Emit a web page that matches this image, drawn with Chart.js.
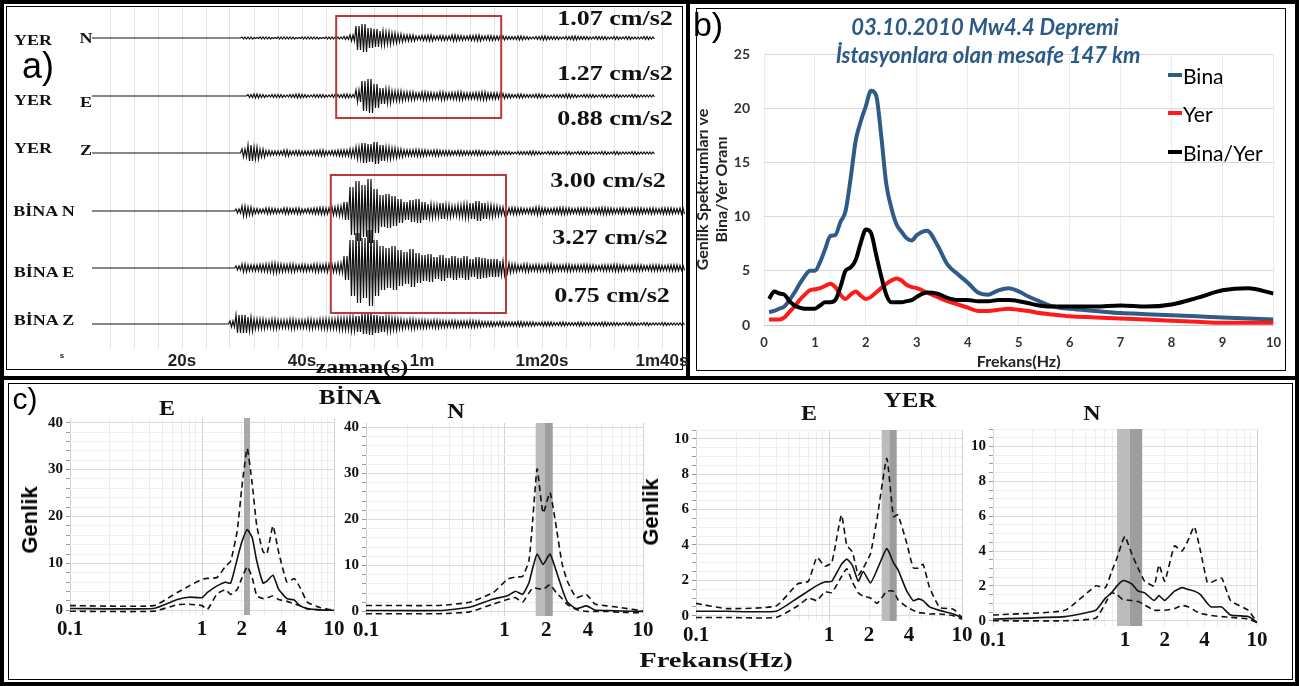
<!DOCTYPE html>
<html lang="tr">
<head>
<meta charset="utf-8">
<title>03.10.2010 Mw4.4 Depremi - kayıtlar ve spektrumlar</title>
<script src="https://cdn.jsdelivr.net/npm/chart.js@4.4.1/dist/chart.umd.min.js"></script>
<style>
  body { margin: 0; background: #fff; }
  #fig { position: relative; width: 1299px; height: 686px; overflow: hidden; background: #fff; }
  .frame { position: absolute; box-sizing: border-box; border: 4px solid #000; }
  .inner { position: absolute; box-sizing: border-box; border: 1px solid #000; }
  canvas { position: absolute; }
  .lbl { position: absolute; white-space: nowrap; line-height: 1; }
  .ser { font-family: "Liberation Serif", "DejaVu Serif", serif; font-weight: bold; color: #111; }
  .san { font-family: "Liberation Sans", Arial, sans-serif; color: #000; }
  .cal { font-family: Lato, "Open Sans", sans-serif; color: #000; }
  .sw { position: absolute; width: 14px; height: 4px; }
</style>
</head>
<body>
<div id="fig">
  <div class="frame" style="left:0;top:0;width:690px;height:380px"></div>
  <div class="inner" style="left:6px;top:6px;width:677px;height:364px"></div>
  <div class="frame" style="left:686px;top:0;width:613px;height:380px"></div>
  <div class="inner" style="left:696px;top:8px;width:590px;height:363px"></div>
  <div class="frame" style="left:0;top:376px;width:1299px;height:310px"></div>
  <div class="inner" style="left:8px;top:383px;width:1285px;height:297px"></div>
</div>
<script>
// ---------- a) ivme kayıtları: genlik zarfı (kayıt pikseli), t = 5 s'den itibaren saniyede bir değer
const seisStart = 5;
const yerN = [0,0,0,0,0, 0,0,0,0,0, 0,0,0,0,0, 0,0,0,0,0, 0,0,0,0,0,
  1,1,0.5,1,1,0.5,1,1,1,0.5,1,1,1,0.5,1,1,1,1.5,
  3,12,14,10,9,7,6,5,4,3,
  3,2,2.5,3,2,2.5,2,3,2.5,2,2.5,3,2,2.5,2,
  2,1.5,1.5,2,1.5,1,1.5,2,1.5,1.5,1,1.5,2,1.5,1.5,1,1.5,1.5,1,1.5,1,1.5,1,1,1.5,1,
  null,null,null,null,null];
const yerE = [0,0,0,0,0, 0,0,0,0,0, 0,0,0,0,0, 0,0,0,0,0, 0,0,0,0,0, 0,
  1.5,2,1.5,1,1.5,1.5,1,1.5,2,1.5,1,1.5,1.5,1,1.5,1.5,2,1.5,
  6,15,17,12,8,7,5,5,4,
  4,3,4,3.5,3,4,3,3.5,4,3,3,3.5,4,3,3,2.5,
  2,1.5,2,1.5,1.5,2,1.5,1,1.5,1.5,2,1.5,1,1.5,1.5,1,1.5,1,1.5,1,1,1.5,1,1,1,
  null,null,null,null,null];
const yerZ = [0,0,0,0,0, 0,0,0,0,0, 0,0,0,0,0, 0,0,0,0,0, 0,0,0,0,0,
  4,8,6,4,
  2.5,2,2,3,2,2.5,2,2,2.5,3,2,2.5,3,3,
  4,6,10,9,11,8,6,5,
  4,3,3,3.5,3,2.5,3,2.5,2.5,2,2.5,2,2,2.5,2,
  1.5,2,1.5,1.5,1,1.5,1.5,2,1.5,1,1.5,1.5,1,1.5,1,1.5,1.5,1,1,1.5,1,1.5,1,1,1.5,1,1,1,
  null,null,null,null,null];
const binaN = [0,0,0,0,0, 0,0,0,0,0, 0,0,0,0,0, 0,0,0,0,0, 0,0,0,0,
  2,5,4,
  2.5,2,3,2.5,2,3,2.5,3,2,2.5,3,3.5,3,
  4,5,9,24,30,26,32,22,16,17,15,12,9,11,12,9,7,6,8,6,5,6,7,8,10,8,6,5,4,
  3,3.5,3,2.5,3,4,3,2.5,3,3.5,3,2.5,3,3,2.5,3,3.5,3,2.5,3,2.5,3,3,2.5,3,2.5,3,3,2.5,3];
const binaE = [0,0,0,0,0, 0,0,0,0,0, 0,0,0,0,0, 0,0,0,0,0, 0,0,0,0,
  2,4,3,
  3,3.5,4,5,4,3.5,4,3,3.5,3,4,3.5,4,
  4,5,12,28,35,30,38,28,22,20,22,18,16,19,15,13,14,11,13,10,12,10,12,9,11,10,9,9,7,
  5,4,3,4,3,3.5,3,4,3,3,3.5,3,3,3.5,3,2.5,3,3,3.5,3,2.5,3,3,2.5,3,3,2.5,3,3,2.5];
const binaZ = [0,0,0,0,0, 0,0,0,0,0, 0,0,0,0,0, 0,0,0,0,0, 0,0,0,
  3,9,9,7,5,
  5,4,5,4,4,5,4,4,5,4,5,5,
  5,6,6,7,8,10,11,9,8,7,6,
  5,4,5,4,4,3.5,4,3.5,3,3.5,3,3,3.5,3,2.5,
  2.5,2,2.5,2,2,2.5,2,2,1.5,2,2,1.5,2,1.5,1.5,2,1.5,1.5,1.5,2,1.5,1.5,1,1.5,1.5,1,1.5,1,1,1.5,1,1,1];
const timeLabels = {0: 's', 20: '20s', 40: '40s', 60: '1m', 80: '1m20s', 100: '1m40s'};
const highlightWindows = [[45.7, 73.2, 16, 118], [44.8, 74, 175, 313]]; // t0, t1 (s), satır aralığı

// ---------- b) genlik spektrumları
const freqB = [0.1,0.2,0.3,0.4,0.5,0.6,0.7,0.8,0.9,1.0,1.1,1.2,1.3,1.4,1.5,1.6,1.7,1.8,1.9,2.0,
  2.1,2.2,2.3,2.4,2.5,2.6,2.7,2.8,2.9,3.0,3.2,3.4,3.6,3.8,4.0,4.2,4.4,4.6,4.8,5.0,5.2,5.4,5.6,5.8,6.0,
  6.5,7.0,7.5,8.0,8.5,9.0,9.5,10];
const bina = [1.2,1.3,1.5,1.7,2.3,3.0,3.8,4.5,5.0,5.0, 5.8,7.0,8.2,8.3,9.5,10.5,13.5,17.0,18.8,20.2,
  21.6,21.2,17.5,13.0,10.8,9.3,8.6,8.0,7.8,8.3, 8.7,7.4,5.6,4.7,3.9,3.0,2.8,3.2,3.4,3.1,2.6,2.2,1.8,1.6,1.5,
  1.3,1.1,1.0,0.9,0.8,0.7,0.6,0.5];
const yer = [0.5,0.5,0.5,0.7,1.2,1.7,2.3,2.8,3.2,3.3, 3.4,3.6,3.8,3.5,2.8,2.4,2.8,3.1,2.7,2.4,
  2.6,3.0,3.4,3.8,4.1,4.3,4.1,3.7,3.5,3.4, 3.0,2.6,2.2,1.9,1.6,1.3,1.3,1.4,1.5,1.4,1.3,1.1,1.0,0.9,0.8,
  0.7,0.6,0.5,0.4,0.3,0.2,0.2,0.2];
const binaYer = [2.4,3.1,2.9,2.8,2.2,1.8,1.6,1.5,1.5,1.5, 1.8,2.1,2.1,2.3,3.5,5.0,5.3,6.0,7.6,8.8,
  8.5,6.5,4.5,2.8,2.1,2.1,2.1,2.2,2.3,2.6, 3.0,2.9,2.5,2.3,2.3,2.2,2.2,2.3,2.3,2.2,2.0,1.8,1.7,1.7,1.7,
  1.7,1.8,1.7,1.9,2.5,3.2,3.4,2.9];

// ---------- c) ortalama (düz) ve ± sınır (kesikli) spektrumlar
const binaEF = [0.1,0.43,0.65,0.8,1.0,1.1,1.3,1.5,1.65,1.85,2.0,2.2,2.4,2.6,2.9,3.1,3.45,3.8,4.4,5.0,5.5,6.3,7.8,10];
const binaEMean = [0.4,0.4,2.3,2.8,2.7,3.8,5.2,6.0,5.8,11.0,14.5,17.2,15.5,10.5,5.8,6.2,7.5,4.5,2.5,2.2,1.0,0.4,0.1,0];
const binaEUp = [1.0,1.0,3.8,5.2,6.6,6.8,7.0,9.3,10.5,17.0,26.0,34.5,27.0,18.0,12.5,12.0,18.0,12.5,6.0,6.8,5.0,1.7,0.6,0];
const binaELow = [-0.2,-0.2,1.2,1.3,1.0,0.2,3.5,4.4,3.4,4.5,6.8,9.3,7.0,3.1,2.5,2.6,3.1,2.3,1.9,1.4,1.0,0.3,0.1,0];
const binaNF = [0.1,0.34,0.56,0.83,1.05,1.2,1.35,1.5,1.6,1.72,1.9,2.13,2.38,2.6,2.85,3.3,3.9,4.5,5.5,7,10];
const binaNMean = [0.2,0.2,0.9,2.7,3.4,4.4,3.7,6.2,9.5,12.5,10.2,12.5,8.5,5.0,2.0,0.6,1.2,0.3,0.2,0.1,0];
const binaNUp = [1.3,1.3,2.0,4.1,7.0,7.5,7.6,11.0,20.0,31.0,21.4,25.9,17.8,10.5,6.5,3.0,3.7,1.6,1.2,0.8,0.1];
const binaNLow = [-0.5,-0.5,-0.1,1.6,2.6,3.0,2.0,4.0,5.1,5.0,4.8,5.8,4.0,2.8,1.5,0.4,0,0,0,-0.2,-0.3];
const yerEF = [0.1,0.17,0.4,0.58,0.7,0.81,0.93,1.05,1.24,1.36,1.5,1.66,1.81,2.05,2.3,2.72,3.05,3.3,3.84,4.3,4.7,5.1,5.7,6.8,8.6,10];
const yerEMean = [0.25,0.25,0.25,1.0,1.4,1.7,1.9,1.95,2.9,3.2,2.85,1.95,2.5,1.85,2.6,3.8,3.0,2.6,1.4,0.85,0.95,0.85,0.5,0.3,0.1,-0.1];
const yerEUp = [0.7,0.4,0.55,1.8,1.95,3.3,2.8,3.0,5.7,4.0,3.6,2.3,2.7,3.5,5.5,8.9,5.6,5.7,4.1,2.7,2.7,2.9,1.6,0.46,0.37,-0.1];
const yerELow = [-0.1,-0.1,-0.1,0.55,1.0,0.85,1.35,1.3,2.2,2.66,1.9,1.3,1.1,1.0,0.7,1.38,1.38,0.9,0.5,0.3,0.18,0.15,0.1,0.1,0,-0.2];
const yerNF = [0.1,0.35,0.6,0.71,0.79,0.87,0.95,1.0,1.13,1.26,1.41,1.66,1.81,2.0,2.37,2.7,3.0,3.35,3.73,4.2,4.5,5.4,6.3,8.6,10];
const yerNMean = [0.1,0.24,0.6,1.3,1.6,2.0,2.27,2.3,2.1,1.7,1.6,1.16,1.44,1.16,1.7,1.9,1.8,1.7,1.5,1.0,0.79,0.79,0.33,0.24,-0.1];
const yerNUp = [0.33,0.6,2.0,1.9,2.8,3.6,4.5,4.85,3.8,3.0,2.27,2.0,3.2,2.27,4.3,4.0,4.6,5.4,4.0,2.2,2.2,2.45,1.16,0.6,-0.1];
const yerNLow = [0,0,0.15,1.0,1.6,1.5,1.25,1.2,1.16,1.1,0.9,0.6,0.6,0.6,0.7,0.88,0.8,0.6,0.42,0.35,0.3,0.24,0.2,0.1,-0.1];
// hakim frekans bantları (Hz)
const bandBinaE = [2.08, 2.31];
const bandBinaN = [1.68, 1.96, 2.23];
const bandYerE = [2.49, 2.84, 3.23];
const bandYerN = [0.87, 1.09, 1.35];
const logTicks = [0.1,0.2,0.3,0.4,0.5,0.6,0.7,0.8,0.9,1,2,3,4,5,6,7,8,9,10];
const fTickText = {0.1: '0.1', 1: '1', 2: '2', 4: '4', 10: '10'};

const SERIF = '"Liberation Serif", "DejaVu Serif", serif';
const SANS = '"Liberation Sans", Arial, sans-serif';
const CAL = 'Lato, "Open Sans", sans-serif';
Chart.defaults.font.family = CAL;

const fig = document.getElementById('fig');

function mkCanvas(left, top, w, h) {
  const c = document.createElement('canvas');
  c.width = w; c.height = h;
  c.style.left = left + 'px'; c.style.top = top + 'px';
  c.style.width = w + 'px'; c.style.height = h + 'px';
  fig.appendChild(c);
  return c;
}

function addLabel(text, x, y, cls, size, sx, extra) {
  const d = document.createElement('div');
  d.className = 'lbl ' + cls;
  d.textContent = text;
  d.style.left = x + 'px';
  d.style.top = y + 'px';
  d.style.fontSize = size + 'px';
  d.style.transform = 'translate(-50%,-50%)' + (sx ? ' scaleX(' + sx + ')' : '') + (extra || '');
  fig.appendChild(d);
  return d;
}

// ---------- a)
function zigzag(env, base) {
  const pts = [];
  env.forEach((a, i) => {
    if (a === null) return;
    const t = seisStart + i;
    pts.push({x: t, y: base - a});
    pts.push({x: t + 0.25, y: base + a});
    pts.push({x: t + 0.5, y: base - a});
    pts.push({x: t + 0.75, y: base + a});
  });
  return pts;
}

const traces = [[yerN, 38], [yerE, 96], [yerZ, 153], [binaN, 211], [binaE, 268], [binaZ, 324]];
const timeTicks = [0];
for (let t = 8; t <= 100; t += 4) timeTicks.push(t);

const boxPlugin = {
  id: 'boxes',
  afterDatasetsDraw(chart) {
    const {ctx, scales: {x, y}} = chart;
    ctx.save();
    ctx.strokeStyle = '#b93a3a';
    ctx.lineWidth = 2;
    highlightWindows.forEach(w => {
      const x0 = x.getPixelForValue(w[0]), x1 = x.getPixelForValue(w[1]);
      const y0 = y.getPixelForValue(w[2]), y1 = y.getPixelForValue(w[3]);
      ctx.strokeRect(x0, y0, x1 - x0, y1 - y0);
    });
    ctx.restore();
  }
};

new Chart(mkCanvas(8, 8, 690, 360), {
  type: 'line',
  data: {
    datasets: traces.map(tr => ({
      data: zigzag(tr[0], tr[1]),
      borderColor: '#111111', borderWidth: 1.2, pointRadius: 0, tension: 0
    }))
  },
  options: {
    responsive: false, animation: false, devicePixelRatio: 1,
    layout: {padding: 0},
    plugins: {legend: {display: false}, tooltip: {enabled: false}},
    scales: {
      x: {
        type: 'linear', min: -9, max: 106,
        afterFit: s => { s.height = 20; },
        afterBuildTicks: s => { s.ticks = timeTicks.map(v => ({value: v})); },
        grid: {color: c => (c.tick && c.tick.value === 0) ? 'rgba(0,0,0,0)' : '#e2e2e2', drawTicks: false},
        border: {display: false},
        ticks: {
          autoSkip: false, maxRotation: 0, padding: 3, color: '#222',
          font: c => ({family: SANS, weight: 'bold', size: (c.tick && c.tick.value === 0) ? 8 : 17}),
          callback: v => timeLabels[v] || ''
        }
      },
      y: {display: false, reverse: true, min: 8, max: 348}
    }
  },
  plugins: [boxPlugin]
});

addLabel('a)', 38, 66, 'san', 36);
[['YER', 33, 40], ['N', 86, 38], ['YER', 33, 100], ['E', 86, 102], ['YER', 33, 148], ['Z', 86, 150],
 ['BİNA N', 44, 211], ['BİNA E', 44, 272], ['BİNA Z', 44, 320]].forEach(l => addLabel(l[0], l[1], l[2], 'ser', 15, 1.2));
[['1.07 cm/s2', 615, 18], ['1.27 cm/s2', 615, 73], ['0.88 cm/s2', 615, 118],
 ['3.00 cm/s2', 608, 180], ['3.27 cm/s2', 610, 237], ['0.75 cm/s2', 612, 295]].forEach(l => addLabel(l[0], l[1], l[2], 'ser', 20, 1.3));
addLabel('zaman(s)', 362, 366, 'ser', 19, 1.25);

// ---------- b)
const pairs = (xs, ys) => xs.map((x, i) => ({x, y: ys[i]}));
new Chart(mkCanvas(690, 8, 601, 366), {
  type: 'line',
  data: {
    datasets: [
      {label: 'Bina/Yer', data: pairs(freqB, binaYer), borderColor: '#000000', order: 0},
      {label: 'Yer', data: pairs(freqB, yer), borderColor: '#ff1a1a', order: 1},
      {label: 'Bina', data: pairs(freqB, bina), borderColor: '#2f5b88', order: 2}
    ]
  },
  options: {
    responsive: false, animation: false, devicePixelRatio: 1,
    layout: {padding: {top: 46, right: 11, left: 0, bottom: 0}},
    plugins: {legend: {display: false}, tooltip: {enabled: false}},
    elements: {point: {radius: 0}, line: {borderWidth: 4, cubicInterpolationMode: 'monotone'}},
    scales: {
      x: {
        type: 'linear', min: 0, max: 10,
        afterFit: s => { s.height = 49; },
        ticks: {stepSize: 1, padding: 10, color: '#333', font: {size: 13, weight: 'bold'}},
        grid: {color: '#ececec', drawTicks: false},
        border: {color: '#c8c8c8'},
        title: {display: true, text: 'Frekans(Hz)', color: '#222', font: {size: 16, weight: 'bold'}, padding: {top: 0, bottom: 3}}
      },
      y: {
        min: 0, max: 25,
        afterFit: s => { s.width = 74; },
        ticks: {stepSize: 5, padding: 14, color: '#333', font: {size: 14, weight: 'bold'}},
        grid: {color: '#dadada', drawTicks: false},
        border: {display: false},
        title: {display: true, text: ['Genlik Spektrumları ve', 'Bina/Yer Oranı'], color: '#222',
                font: {size: 16, weight: 'bold'}, padding: {top: 3, bottom: 0}}
      }
    }
  }
});

addLabel('b)', 708, 24, 'san', 34);
[['03.10.2010 Mw4.4 Depremi', 985, 27], ['İstasyonlara olan mesafe 147 km', 988, 55]].forEach(l => {
  const d = addLabel(l[0], l[1], l[2], 'cal', 22);
  d.style.fontWeight = 'bold'; d.style.fontStyle = 'italic'; d.style.color = '#2c5a88';
});
[['Bina', '#2f5b88', 75], ['Yer', '#ff1a1a', 113], ['Bina/Yer', '#000000', 152]].forEach(l => {
  const s = document.createElement('div');
  s.className = 'sw';
  s.style.left = '1168px'; s.style.top = (l[2] - 2) + 'px'; s.style.background = l[1];
  fig.appendChild(s);
  const d = addLabel(l[0], 1183, l[2], 'cal', 21);
  d.style.transform = 'translate(0,-50%)';
});

// ---------- c)
function bandPlugin(edges) {
  return {
    id: 'band',
    beforeDatasetsDraw(chart) {
      const {ctx, chartArea: a, scales: {x}} = chart;
      const shades = edges.length > 2 ? ['#bcbcbc', '#9d9d9d'] : ['#a9a9a9'];
      ctx.save();
      for (let i = 0; i < edges.length - 1; i++) {
        const x0 = x.getPixelForValue(edges[i]), x1 = x.getPixelForValue(edges[i + 1]);
        ctx.fillStyle = shades[i];
        ctx.fillRect(x0, a.top, x1 - x0, a.bottom - a.top);
      }
      ctx.restore();
    }
  };
}

function spectrum(area, yMin, yMax, yStep, yLabelEvery, f, mean, up, low, band) {
  const yAxisW = 40, padTop = 6, padRight = 16, xAxisH = 34;
  const cv = mkCanvas(area.l - yAxisW, area.t - padTop,
                      area.r - area.l + yAxisW + padRight, area.b - area.t + padTop + xAxisH);
  const yTicks = [];
  for (let v = 0; v <= yMax + 1e-9; v += yStep) yTicks.push(Math.round(v * 100) / 100);
  const isDecade = v => [0.1, 1, 10].includes(v);
  const isMajor = v => Math.abs(v % yLabelEvery) < 1e-9;
  const line = (ys, dash) => ({
    data: pairs(f, ys), borderColor: '#111', borderWidth: 1.6, borderDash: dash, pointRadius: 0, tension: 0.15
  });
  return new Chart(cv, {
    type: 'line',
    data: {datasets: [line(mean, []), line(up, [6, 4]), line(low, [6, 4])]},
    options: {
      responsive: false, animation: false, devicePixelRatio: 1,
      layout: {padding: {top: padTop, right: padRight, left: 0, bottom: 0}},
      plugins: {legend: {display: false}, tooltip: {enabled: false}},
      scales: {
        x: {
          type: 'logarithmic', min: 0.1, max: 10,
          afterFit: s => { s.height = xAxisH; },
          afterBuildTicks: s => { s.ticks = logTicks.map(v => ({value: v})); },
          grid: {color: c => (c.tick && isDecade(c.tick.value)) ? '#d2d2d2' : '#ececec', drawTicks: false},
          border: {display: false},
          ticks: {autoSkip: false, maxRotation: 0, padding: 2, color: '#111',
                  font: {family: SERIF, size: 21, weight: 'bold'}, callback: v => fTickText[v] || ''}
        },
        y: {
          min: yMin, max: yMax,
          afterFit: s => { s.width = yAxisW; },
          afterBuildTicks: s => { s.ticks = yTicks.map(v => ({value: v})); },
          grid: {color: c => (c.tick && isMajor(c.tick.value)) ? '#dcdcdc' : '#efefef',
                 tickColor: '#999', tickLength: 4},
          border: {display: false},
          ticks: {autoSkip: false, padding: 3, color: '#111', font: {family: SERIF, size: 15, weight: 'bold'},
                  callback: v => (isMajor(v) ? String(v) : '')}
        }
      }
    },
    plugins: [bandPlugin(band)]
  });
}

spectrum({l: 70, r: 334, t: 412, b: 615}, -1, 41, 2, 10, binaEF, binaEMean, binaEUp, binaELow, bandBinaE);
spectrum({l: 366, r: 643, t: 417, b: 616}, -1, 41, 2, 10, binaNF, binaNMean, binaNUp, binaNLow, bandBinaN);
spectrum({l: 696, r: 962, t: 424, b: 621}, -0.3, 10.5, 0.5, 2, yerEF, yerEMean, yerEUp, yerELow, bandYerE);
spectrum({l: 993, r: 1257, t: 423, b: 626}, -0.3, 11, 0.5, 2, yerNF, yerNMean, yerNUp, yerNLow, bandYerN);

addLabel('c)', 25, 399, 'san', 30);
addLabel('BİNA', 350, 397, 'ser', 20, 1.25);
addLabel('YER', 910, 400, 'ser', 20, 1.25);
[['E', 167, 408], ['N', 456, 411], ['E', 809, 413], ['N', 1092, 413]].forEach(l => addLabel(l[0], l[1], l[2], 'ser', 20, 1.2));
[[30, 520], [651, 512]].forEach(p => {
  const d = addLabel('Genlik', p[0], p[1], 'san', 22, 0, ' rotate(-90deg)');
  d.style.fontWeight = 'bold';
});
addLabel('Frekans(Hz)', 716, 660, 'ser', 22, 1.3);
</script>
</body>
</html>
